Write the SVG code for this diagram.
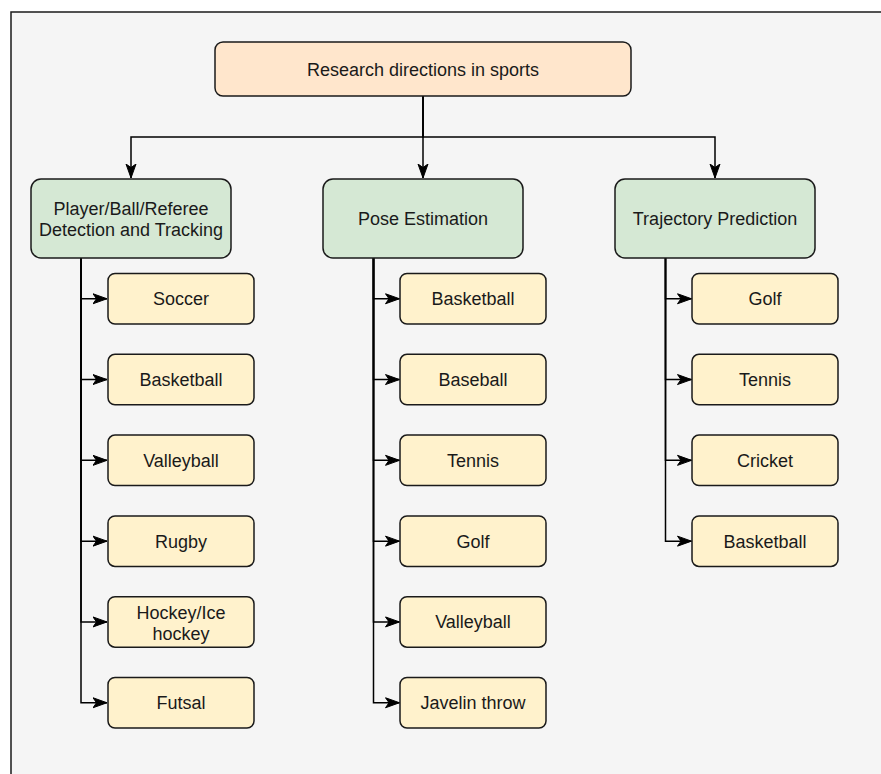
<svg xmlns="http://www.w3.org/2000/svg" width="881" height="774" viewBox="0 0 881 774">
  <style>
    .frame { fill: #f5f5f5; stroke: #1a1a1a; stroke-width: 1.5; }
    .root { fill: #ffe6cc; stroke: #1a1a1a; stroke-width: 1.5; }
    .cat { fill: #d5e8d4; stroke: #1a1a1a; stroke-width: 1.5; }
    .leaf { fill: #fff2cc; stroke: #1a1a1a; stroke-width: 1.5; }
    .edge { fill: none; stroke: #000; stroke-width: 1.5; }
    text { font-family: "Liberation Sans", Arial, Helvetica, sans-serif; font-size: 18px; fill: #1a1a1a; text-anchor: middle; }
  </style>
  <defs>
    <marker id="arrow" markerUnits="userSpaceOnUse" viewBox="0 0 15 12" markerWidth="15" markerHeight="12" refX="14.5" refY="6" orient="auto">
      <path d="M0.5,1 L14.5,6 L0.5,11 L4,6 Z" fill="#000" stroke="#000" stroke-width="1"/>
    </marker>
  </defs>

  <rect x="0" y="0" width="881" height="774" fill="#ffffff"/>
  <rect class="frame" x="11" y="12" width="880" height="780"/>

  <!-- connectors -->
  <g id="connectors">
    <path class="edge" d="M423,96 V137 H131 V178" marker-end="url(#arrow)"/>
    <path class="edge" d="M423,96 V178" marker-end="url(#arrow)"/>
    <path class="edge" d="M423,96 V137 H715 V178" marker-end="url(#arrow)"/>

    <!-- detection and tracking branch -->
    <path class="edge" d="M81,258 V298.75 H107" marker-end="url(#arrow)"/>
    <path class="edge" d="M81,258 V379.55 H107" marker-end="url(#arrow)"/>
    <path class="edge" d="M81,258 V460.35 H107" marker-end="url(#arrow)"/>
    <path class="edge" d="M81,258 V541.15 H107" marker-end="url(#arrow)"/>
    <path class="edge" d="M81,258 V621.95 H107" marker-end="url(#arrow)"/>
    <path class="edge" d="M81,258 V702.75 H107" marker-end="url(#arrow)"/>

    <!-- pose estimation branch -->
    <path class="edge" d="M373.5,258 V298.75 H399.5" marker-end="url(#arrow)"/>
    <path class="edge" d="M373.5,258 V379.55 H399.5" marker-end="url(#arrow)"/>
    <path class="edge" d="M373.5,258 V460.35 H399.5" marker-end="url(#arrow)"/>
    <path class="edge" d="M373.5,258 V541.15 H399.5" marker-end="url(#arrow)"/>
    <path class="edge" d="M373.5,258 V621.95 H399.5" marker-end="url(#arrow)"/>
    <path class="edge" d="M373.5,258 V702.75 H399.5" marker-end="url(#arrow)"/>

    <!-- trajectory prediction branch -->
    <path class="edge" d="M665.5,258 V298.75 H691.5" marker-end="url(#arrow)"/>
    <path class="edge" d="M665.5,258 V379.55 H691.5" marker-end="url(#arrow)"/>
    <path class="edge" d="M665.5,258 V460.35 H691.5" marker-end="url(#arrow)"/>
    <path class="edge" d="M665.5,258 V541.15 H691.5" marker-end="url(#arrow)"/>
  </g>

  <!-- root -->
  <g id="root">
    <rect class="root" x="215" y="42" width="416" height="54" rx="8"/>
    <text x="423" y="75.5">Research directions in sports</text>
  </g>

  <!-- categories -->
  <g id="cat-detection">
    <rect class="cat" x="31" y="179" width="200" height="79" rx="10"/>
    <text x="131" y="215">Player/Ball/Referee</text>
    <text x="131" y="236">Detection and Tracking</text>
  </g>
  <g id="cat-pose">
    <rect class="cat" x="323" y="179" width="200" height="79" rx="10"/>
    <text x="423" y="225">Pose Estimation</text>
  </g>
  <g id="cat-trajectory">
    <rect class="cat" x="615" y="179" width="200" height="79" rx="10"/>
    <text x="715" y="225">Trajectory Prediction</text>
  </g>

  <!-- detection and tracking leaves -->
  <g id="det-soccer"><rect class="leaf" x="108" y="273.5" width="146" height="50.5" rx="7"/><text x="181" y="305.25">Soccer</text></g>
  <g id="det-basketball"><rect class="leaf" x="108" y="354.3" width="146" height="50.5" rx="7"/><text x="181" y="386.05">Basketball</text></g>
  <g id="det-valleyball"><rect class="leaf" x="108" y="435.1" width="146" height="50.5" rx="7"/><text x="181" y="466.85">Valleyball</text></g>
  <g id="det-rugby"><rect class="leaf" x="108" y="515.9" width="146" height="50.5" rx="7"/><text x="181" y="547.65">Rugby</text></g>
  <g id="det-hockey"><rect class="leaf" x="108" y="596.7" width="146" height="50.5" rx="7"/><text x="181" y="618.5">Hockey/Ice</text><text x="181" y="639.5">hockey</text></g>
  <g id="det-futsal"><rect class="leaf" x="108" y="677.5" width="146" height="50.5" rx="7"/><text x="181" y="709.25">Futsal</text></g>

  <!-- pose estimation leaves -->
  <g id="pose-basketball"><rect class="leaf" x="400" y="273.5" width="146" height="50.5" rx="7"/><text x="473" y="305.25">Basketball</text></g>
  <g id="pose-baseball"><rect class="leaf" x="400" y="354.3" width="146" height="50.5" rx="7"/><text x="473" y="386.05">Baseball</text></g>
  <g id="pose-tennis"><rect class="leaf" x="400" y="435.1" width="146" height="50.5" rx="7"/><text x="473" y="466.85">Tennis</text></g>
  <g id="pose-golf"><rect class="leaf" x="400" y="515.9" width="146" height="50.5" rx="7"/><text x="473" y="547.65">Golf</text></g>
  <g id="pose-valleyball"><rect class="leaf" x="400" y="596.7" width="146" height="50.5" rx="7"/><text x="473" y="628.45">Valleyball</text></g>
  <g id="pose-javelin"><rect class="leaf" x="400" y="677.5" width="146" height="50.5" rx="7"/><text x="473" y="709.25">Javelin throw</text></g>

  <!-- trajectory prediction leaves -->
  <g id="traj-golf"><rect class="leaf" x="692" y="273.5" width="146" height="50.5" rx="7"/><text x="765" y="305.25">Golf</text></g>
  <g id="traj-tennis"><rect class="leaf" x="692" y="354.3" width="146" height="50.5" rx="7"/><text x="765" y="386.05">Tennis</text></g>
  <g id="traj-cricket"><rect class="leaf" x="692" y="435.1" width="146" height="50.5" rx="7"/><text x="765" y="466.85">Cricket</text></g>
  <g id="traj-basketball"><rect class="leaf" x="692" y="515.9" width="146" height="50.5" rx="7"/><text x="765" y="547.65">Basketball</text></g>
</svg>
